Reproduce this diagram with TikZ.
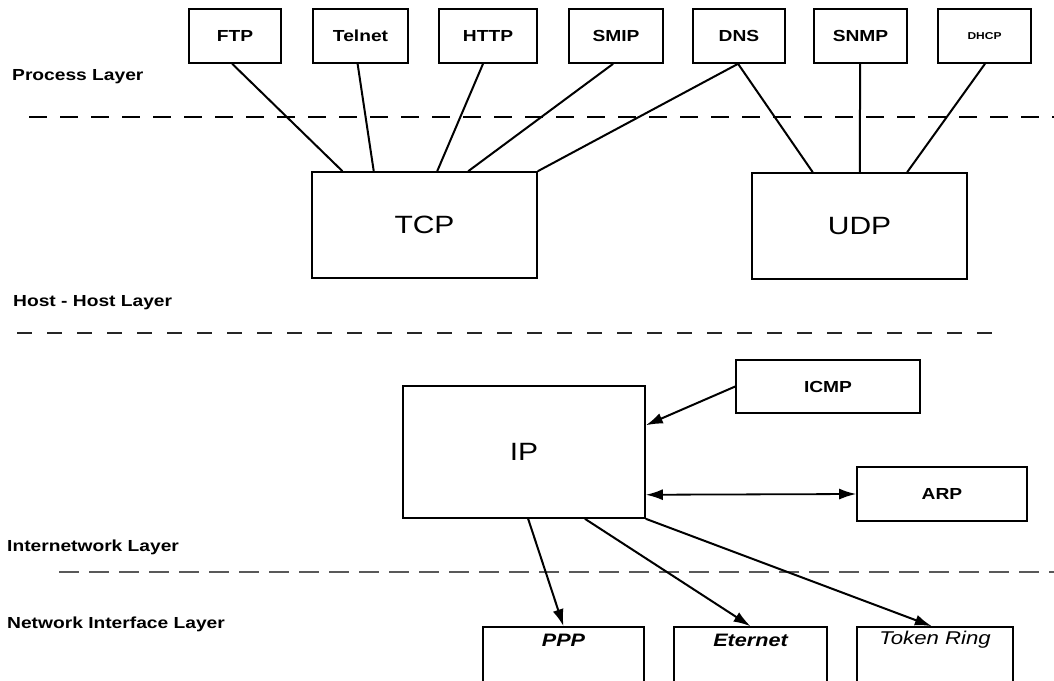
\documentclass[tikz,border=0pt]{standalone}
\usepackage{fontspec}
\setmainfont{Liberation Sans}
\newfontfamily\wf[FakeStretch=1.2]{Liberation Sans}
\usetikzlibrary{arrows.meta,calc}
\begin{document}
\begin{tikzpicture}[x=1pt,y=-1pt,
  box/.style={draw, line width=1.6pt, inner sep=0pt, minimum height=54pt},
  boxlbl/.style={font=\wf\bfseries\fontsize{16}{18}\selectfont},
  biglbl/.style={font=\wf\fontsize{25}{28}\selectfont},
  layerlbl/.style={font=\wf\bfseries\fontsize{16}{18}\selectfont, anchor=west, inner sep=0pt},
  conn/.style={line width=2pt},
  arr/.style={line width=2pt, -{Latex[length=17pt,width=11pt]}},
  birr/.style={line width=1.8pt, {Latex[length=17pt,width=11pt]}-{Latex[length=17pt,width=11pt]}},
  sepA/.style={line width=2.2pt, dash pattern=on 18pt off 13pt},
  sepB/.style={line width=1.6pt, black!85, dash pattern=on 15pt off 15pt},
  sepC/.style={line width=1.3pt, black!65, dash pattern=on 20pt off 10pt}]
\useasboundingbox (0,0) rectangle (1054,680);
\clip (0,0) rectangle (1054,680);
\fill[white] (0,0) rectangle (1054,680);

% application boxes
\node[box, boxlbl, minimum width=92pt] (FTP) at (235,36) {FTP};
\node[box, boxlbl, minimum width=95pt] (Telnet) at (360.5,36) {Telnet};
\node[box, boxlbl, minimum width=98pt] (HTTP) at (488,36) {HTTP};
\node[box, boxlbl, minimum width=94pt] (SMIP) at (616,36) {SMIP};
\node[box, boxlbl, minimum width=92pt] (DNS) at (739,36) {DNS};
\node[box, boxlbl, minimum width=93pt] (SNMP) at (860.5,36) {SNMP};
\node[box, font=\wf\bfseries\fontsize{10}{12}\selectfont, minimum width=93pt] (DHCP) at (984.5,36) {DHCP};

% transport boxes
\node[box, biglbl, minimum width=225pt, minimum height=106pt] (TCP) at (424.5,225) {TCP};
\node[box, biglbl, minimum width=215pt, minimum height=106pt] (UDP) at (859.5,226) {UDP};

% internet boxes
\node[box, biglbl, minimum width=242pt, minimum height=132pt] (IP) at (524,452) {IP};
\node[box, boxlbl, minimum width=184pt, minimum height=53pt] (ICMP) at (828,386.5) {ICMP};
\node[box, boxlbl, minimum width=170pt] (ARP) at (942,494) {ARP};

% network interface boxes
\node[box, minimum width=161pt, minimum height=60pt,
  label={[font=\wf\bfseries\itshape\fontsize{18}{20}\selectfont, yshift=17pt]center:PPP}] (PPP) at (563.5,657) {};
\node[box, minimum width=153pt, minimum height=60pt,
  label={[font=\wf\bfseries\itshape\fontsize{18}{20}\selectfont, yshift=17pt]center:Eternet}] (Eth) at (750.5,657) {};
\node[box, minimum width=156pt, minimum height=60pt,
  label={[font=\wf\itshape\fontsize{18.5}{20}\selectfont, yshift=17pt]center:Token Ring}] (TR) at (935,657) {};

% layer labels and separators
\node[layerlbl] (Lproc) at (12,77) {Process Layer};
\node[layerlbl] (Lhost) at (13,303) {Host - Host Layer};
\node[layerlbl] (Linet) at (7,547) {Internetwork Layer};
\node[layerlbl] (Lnet) at (7,624) {Network Interface Layer};

\coordinate (sA1) at (29,117); \coordinate (sA2) at (1054,117);
\coordinate (sB1) at (17,333); \coordinate (sB2) at (1002,333);
\coordinate (sC1) at (59,572); \coordinate (sC2) at (1054,572);
\draw[sepA] (sA1) -- (sA2);
\draw[sepB] (sB1) -- (sB2);
\draw[sepC] (sC1) -- (sC2);

% connectors application -> transport
\draw[conn] ($(FTP.south west)!0.47!(FTP.south east)$) -- ($(TCP.north west)!0.138!(TCP.north east)$);
\draw[conn] ($(Telnet.south west)!0.47!(Telnet.south east)$) -- ($(TCP.north west)!0.276!(TCP.north east)$);
\draw[conn] ($(HTTP.south west)!0.45!(HTTP.south east)$) -- ($(TCP.north west)!0.556!(TCP.north east)$);
\draw[conn] ($(SMIP.south west)!0.47!(SMIP.south east)$) -- ($(TCP.north west)!0.693!(TCP.north east)$);
\draw[conn] ($(DNS.south west)!0.49!(DNS.south east)$) -- (TCP.north east);
\draw[conn] ($(DNS.south west)!0.49!(DNS.south east)$) -- ($(UDP.north west)!0.284!(UDP.north east)$);
\draw[conn] ($(SNMP.south west)!0.495!(SNMP.south east)$) -- ($(UDP.north west)!0.502!(UDP.north east)$);
\draw[conn] ($(DHCP.south west)!0.505!(DHCP.south east)$) -- ($(UDP.north west)!0.72!(UDP.north east)$);

% internet layer arrows
\draw[arr] (ICMP.west) -- ($(IP.north east)!0.30!(IP.south east)$);
\draw[birr] ($(IP.north east)!0.82!(IP.south east)$) -- (ARP.west);
\draw[arr] ($(IP.south west)!0.517!(IP.south east)$) -- (PPP.north);
\draw[arr] ($(IP.south west)!0.75!(IP.south east)$) -- (Eth.north);
\draw[arr] (IP.south east) -- ($(TR.north west)!0.48!(TR.north east)$);
\end{tikzpicture}
\end{document}
